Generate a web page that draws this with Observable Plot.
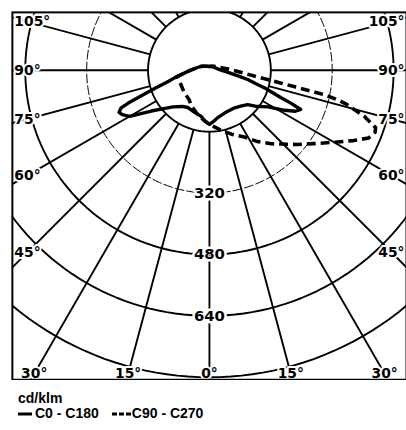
<!DOCTYPE html>
<html>
<head>
<meta charset="utf-8">
<script src="https://cdn.jsdelivr.net/npm/d3@7"></script>
<script src="https://cdn.jsdelivr.net/npm/@observablehq/plot@0.6"></script>
<style>
  html, body { margin: 0; padding: 0; background: #fff; }
  #wrap { position: relative; width: 406px; height: 430px; overflow: hidden; background: #fff; }
  #chart { position: absolute; left: 0; top: 0; }
  #legend { position: absolute; left: 18px; top: 391px; font: bold 14px "Liberation Sans", Arial, sans-serif; line-height: 15px; color: #000; }
  #legend .row { display: flex; align-items: center; white-space: nowrap; }
  #legend svg { display: block; }
</style>
</head>
<body>
<div id="wrap">
  <div id="chart"></div>
  <div id="legend"></div>
</div>
<script>
// ---------------- data (cd/klm) ----------------
const unitLabel = "cd/klm";
const seriesNames = ["C0 - C180", "C90 - C270"];

// C180 (left half, solid)
const gammaC180 = [0, 5, 10, 20, 30, 37, 45, 50, 55, 60, 63, 65, 67, 68, 70, 72, 75, 78, 80, 85, 90, 100, 110, 120, 135, 150, 180];
const valuesC180 = [141, 133, 122, 116, 112, 118, 135, 155, 185, 240, 255, 260, 250, 228, 180, 145, 110, 92, 80, 62, 50, 35, 27, 21, 15, 12, 10];

// C0 (right half, solid)
const gammaC0 = [0, 5, 10, 20, 34, 42, 48, 52, 58, 62, 64.5, 66.8, 68, 69, 70.5, 72.3, 74, 76.3, 78, 80, 85, 90, 100, 120, 150, 180];
const valuesC0 = [141, 133, 125, 118, 118, 125, 134, 152, 180, 222, 248, 259, 230, 200, 175, 151, 125, 104, 85, 68, 45, 32, 22, 15, 11, 10];

// C270 (left half, dashed)
const gammaC270 = [0, 6, 14, 26, 35, 50, 65, 79, 85, 90, 100, 110, 120, 135, 150, 180];
const valuesC270 = [141, 131, 121, 105, 93, 87, 83, 86, 62, 50, 35, 27, 21, 15, 12, 10];

// C90 (right half, dashed)
const gammaC90 = [0, 5, 11, 19, 27, 34, 40, 44, 50, 55, 60, 64, 67, 69.5, 71, 73.5, 76, 77, 78, 79, 80, 82, 85, 90, 100, 120, 150, 180];
const valuesC90 = [141, 148, 159, 176, 194, 224, 250, 267, 301, 333, 375, 418, 451, 461, 458, 420, 370, 345, 305, 229, 183, 131, 92, 62, 36, 20, 13, 10];

// grid
const ringValues = [160, 320, 480, 640, 800];
const ringLabelValues = [320, 480, 640];
const angleTickValues = [-105, -90, -75, -60, -45, -30, -15, 0, 15, 30, 45, 60, 75, 90, 105];
const angleTickLabels = ["105°", "90°", "75°", "60°", "45°", "30°", "15°", "0°", "15°", "30°", "45°", "60°", "75°", "90°", "105°"];

// ---------------- layout ----------------
const W = 410, H = 384;
const mL = 12, mR = 0, mT = 12, mB = 1;
const cx = 211, cy = 70.5;           // pixel position of the pole
const pxPerUnit = 0.3875;            // pixels per cd/klm
const xDomain = [-(cx - mL) / pxPerUnit, (W - mR - cx) / pxPerUnit];
const yDomain = [-(H - mB - cy) / pxPerUnit, (cy - mT) / pxPerUnit];

const rad = Math.PI / 180;
const polar = (side, g, v) => ({ x: side * v * Math.sin(g * rad), y: -v * Math.cos(g * rad) });

const solidPts = [
  ...gammaC180.map((g, i) => polar(-1, g, valuesC180[i])).reverse(),
  ...gammaC0.map((g, i) => polar(1, g, valuesC0[i]))
];
const dashedPts = [
  ...gammaC270.map((g, i) => polar(-1, g, valuesC270[i])).reverse(),
  ...gammaC90.map((g, i) => polar(1, g, valuesC90[i]))
];

const circleSteps = d3.range(0, 361, 2);
const ringPts = ringValues.filter(v => v !== 160 && v !== 320)
  .flatMap(v => circleSteps.map(a => ({ ring: v, ...polar(1, a, v) })));
const dashedRingPts = circleSteps.map(a => polar(1, a, 320));
const innerPts = circleSteps.map(a => polar(1, a, 160));

const gridAngles = d3.range(-165, 195, 15);
const spokes = gridAngles.map(a => {
  const p1 = polar(1, a, 160), p2 = polar(1, a, 2000);
  return { x1: p1.x, y1: p1.y, x2: p2.x, y2: p2.y };
});

// label anchors: ray intersection with an inset box
const insetX = (cx - 27) / pxPerUnit;
const insetBottom = -(377 - cy) / pxPerUnit;
const angleLabels = angleTickValues.map((a, i) => {
  const g = Math.abs(a) * rad;
  let x, y, pos;
  if (Math.abs(a) <= 30) {
    const r = -insetBottom / Math.cos(g);
    x = Math.sign(a) * r * Math.sin(g); y = insetBottom; pos = "bottom";
  } else {
    const r = insetX / Math.sin(g);
    y = -r * Math.cos(g);
    pos = a < 0 ? "left" : "right";
    x = a < 0 ? xDomain[0] + 2 / pxPerUnit : xDomain[1] - 2 / pxPerUnit;
  }
  return { x, y, text: angleTickLabels[i], pos };
});

const txt = { fontWeight: "bold", fontSize: 14, fill: "black", stroke: "white", strokeWidth: 4 };

const plot = Plot.plot({
  width: W, height: H,
  marginLeft: mL, marginRight: mR, marginTop: mT, marginBottom: mB,
  x: { domain: xDomain, axis: null },
  y: { domain: yDomain, axis: null },
  style: { fontFamily: "'DejaVu Sans', sans-serif", background: "white", color: "black" },
  marks: [
    Plot.line(ringPts, { x: "x", y: "y", z: "ring", stroke: "black", strokeWidth: 1.9, clip: true }),
    Plot.line(dashedRingPts, { x: "x", y: "y", stroke: "black", strokeWidth: 1, strokeDasharray: "9,3", clip: true }),
    Plot.link(spokes, { x1: "x1", y1: "y1", x2: "x2", y2: "y2", stroke: "black", strokeWidth: 1.9, clip: true }),
    Plot.line(innerPts, { x: "x", y: "y", fill: "white", stroke: "black", strokeWidth: 1.9, clip: true }),
    Plot.line(solidPts, { x: "x", y: "y", stroke: "black", strokeWidth: 3.4, curve: "linear" }),
    Plot.line(dashedPts, { x: "x", y: "y", stroke: "black", strokeWidth: 3.6, strokeDasharray: "9,5", strokeLinecap: "butt", curve: "linear" }),
    Plot.text(ringLabelValues, { x: 0, y: d => -d, text: d => String(d), ...txt, fontSize: 15, strokeWidth: 5 }),
    Plot.text(angleLabels.filter(d => d.pos === "left"), { x: "x", y: "y", text: "text", textAnchor: "start", ...txt }),
    Plot.text(angleLabels.filter(d => d.pos === "right"), { x: "x", y: "y", text: "text", textAnchor: "end", ...txt }),
    Plot.text(angleLabels.filter(d => d.pos === "bottom"), { x: "x", y: "y", text: "text", textAnchor: "middle", ...txt }),
    Plot.frame({ stroke: "black", strokeWidth: 2 })
  ]
});
document.getElementById("chart").appendChild(plot);

// legend
const lg = document.getElementById("legend");
lg.innerHTML = `
  <div>${unitLabel}</div>
  <div class="row">
    <svg width="14" height="8"><line x1="0" y1="4" x2="14" y2="4" stroke="black" stroke-width="3"/></svg>
    <span style="margin-left:3px">${seriesNames[0]}</span>
    <svg width="19" height="8" style="margin-left:13px"><line x1="0" y1="4" x2="19" y2="4" stroke="black" stroke-width="3" stroke-dasharray="5,2"/></svg>
    <span style="margin-left:1px">${seriesNames[1]}</span>
  </div>`;
</script>
</body>
</html>
